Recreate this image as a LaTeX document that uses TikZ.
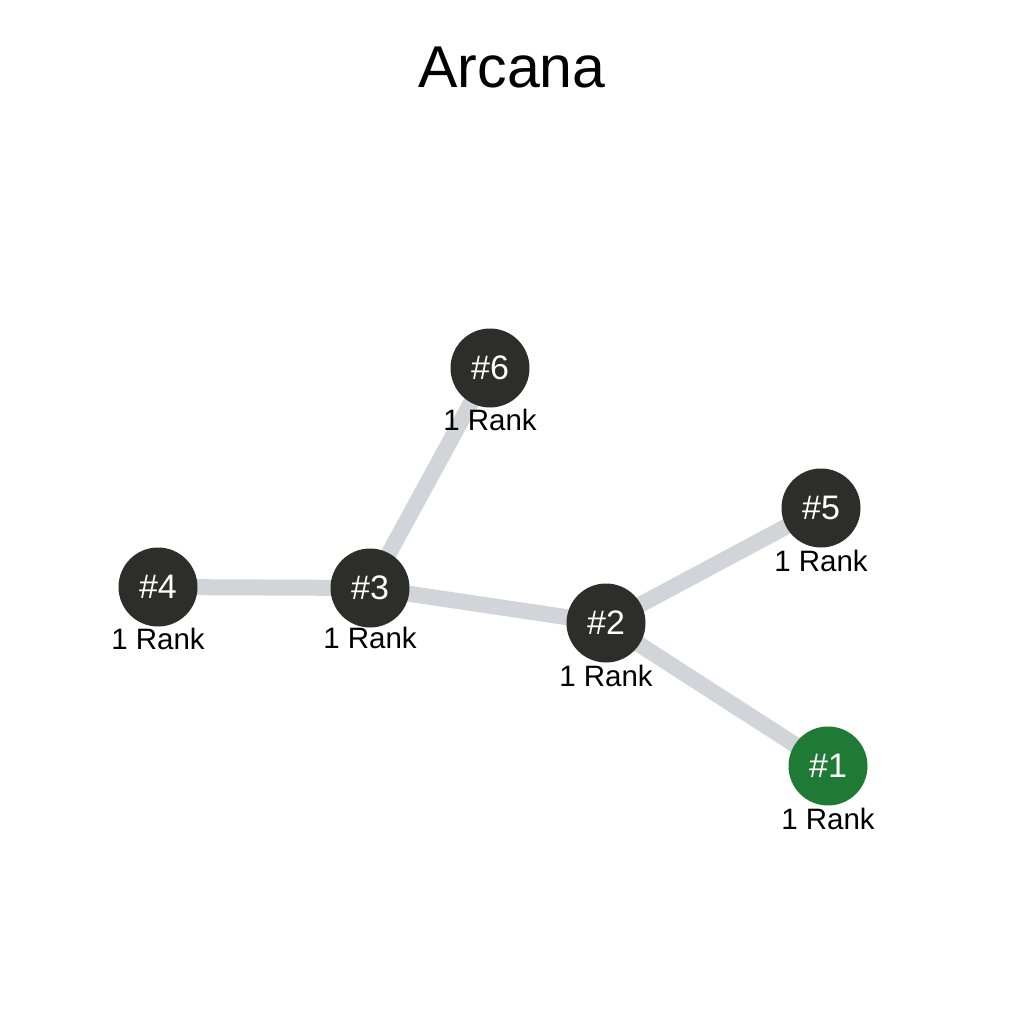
\documentclass[tikz,border=0pt]{standalone}
\usepackage{fontspec}
\setmainfont{Liberation Sans}
\definecolor{edgegray}{HTML}{D1D5D9}
\definecolor{nodedark}{HTML}{2D2D2A}
\definecolor{nodegreen}{HTML}{1F7A35}
\tikzset{
  rnode/.style={circle, fill=nodedark, minimum size=79pt, inner sep=0pt, text=white, font=\fontsize{34}{34}\selectfont},
  gnode/.style={rnode, fill=nodegreen},
  rlabel/.style={font=\fontsize{29.5}{29.5}\selectfont, text=black, inner sep=0pt},
  link/.style={draw=edgegray, line width=16pt}
}
\begin{document}
\begin{tikzpicture}[x=1pt,y=-1pt]
\useasboundingbox (0,0) rectangle (1024,1024);
\fill[white] (0,0) rectangle (1024,1024);
\node[font=\fontsize{59}{59}\selectfont] (title) at (512,67) {Arcana};
\coordinate (p6) at (490,368);
\coordinate (p5) at (821,508);
\coordinate (p4) at (158,587);
\coordinate (p3) at (370,588);
\coordinate (p2) at (606,623);
\coordinate (p1) at (828,766);
\draw[link] (p6) -- (p3);
\draw[link] (p4) -- (p3);
\draw[link] (p3) -- (p2);
\draw[link] (p2) -- (p5);
\draw[link] (p2) -- (p1);
\node[rnode] (n6) at (p6) {\#6};
\node[rnode] (n5) at (p5) {\#5};
\node[rnode] (n4) at (p4) {\#4};
\node[rnode] (n3) at (p3) {\#3};
\node[rnode] (n2) at (p2) {\#2};
\node[gnode] (n1) at (p1) {\#1};
\node[rlabel] (l6) at (490,420) {1 Rank};
\node[rlabel] (l5) at (821,561) {1 Rank};
\node[rlabel] (l4) at (158,639) {1 Rank};
\node[rlabel] (l3) at (370,638) {1 Rank};
\node[rlabel] (l2) at (606,676) {1 Rank};
\node[rlabel] (l1) at (828,819) {1 Rank};
\end{tikzpicture}
\end{document}
